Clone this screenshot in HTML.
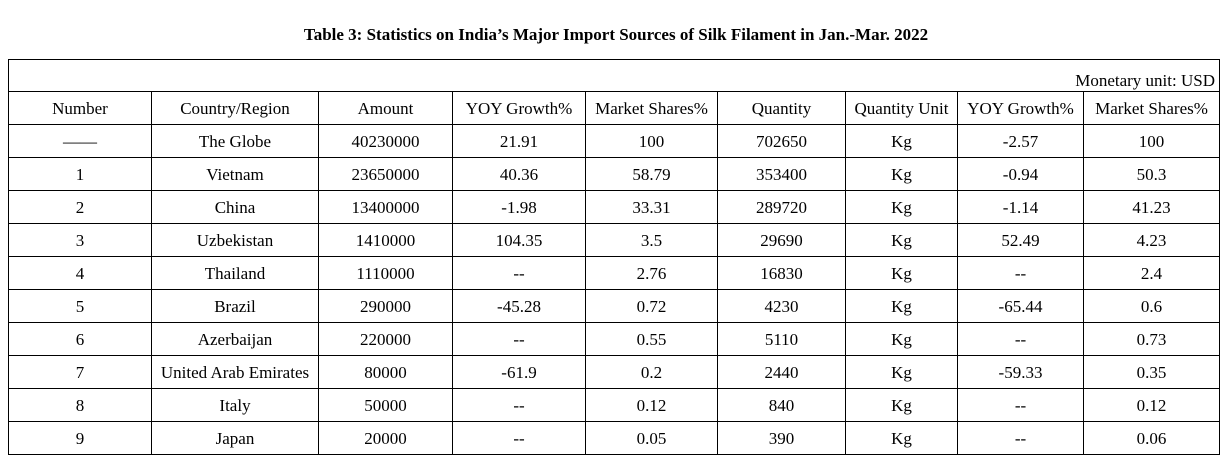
<!DOCTYPE html>
<html><head><style>
body{margin:0;width:1232px;height:471px;background:#fff;font-family:"Liberation Serif",serif;color:#000;position:relative;overflow:hidden}
.t{position:absolute;top:25px;left:0;width:1232px;text-align:center;font-weight:bold;font-size:17px}
table{position:absolute;left:8px;top:59px;border-collapse:collapse;table-layout:fixed}
td{border:1.5px solid #000;height:32px;padding:0;text-align:center;font-size:17px;line-height:19px;white-space:nowrap;overflow:hidden}
td.m{text-align:right;padding-right:4px;vertical-align:bottom;padding-bottom:2px;height:29px;line-height:17px}
</style></head><body>
<div class="t">Table 3: Statistics on India’s Major Import Sources of Silk Filament in Jan.-Mar. 2022</div>
<table>
<colgroup><col style="width:143px"><col style="width:167px"><col style="width:134px"><col style="width:133px"><col style="width:132px"><col style="width:128px"><col style="width:112px"><col style="width:126px"><col style="width:136px"></colgroup>
<tr><td colspan="9" class="m">Monetary unit: USD</td></tr>
<tr><td>Number</td><td>Country/Region</td><td>Amount</td><td>YOY Growth%</td><td>Market Shares%</td><td>Quantity</td><td>Quantity Unit</td><td>YOY Growth%</td><td>Market Shares%</td></tr>
<tr><td>——</td><td>The Globe</td><td>40230000</td><td>21.91</td><td>100</td><td>702650</td><td>Kg</td><td>-2.57</td><td>100</td></tr>
<tr><td>1</td><td>Vietnam</td><td>23650000</td><td>40.36</td><td>58.79</td><td>353400</td><td>Kg</td><td>-0.94</td><td>50.3</td></tr>
<tr><td>2</td><td>China</td><td>13400000</td><td>-1.98</td><td>33.31</td><td>289720</td><td>Kg</td><td>-1.14</td><td>41.23</td></tr>
<tr><td>3</td><td>Uzbekistan</td><td>1410000</td><td>104.35</td><td>3.5</td><td>29690</td><td>Kg</td><td>52.49</td><td>4.23</td></tr>
<tr><td>4</td><td>Thailand</td><td>1110000</td><td>--</td><td>2.76</td><td>16830</td><td>Kg</td><td>--</td><td>2.4</td></tr>
<tr><td>5</td><td>Brazil</td><td>290000</td><td>-45.28</td><td>0.72</td><td>4230</td><td>Kg</td><td>-65.44</td><td>0.6</td></tr>
<tr><td>6</td><td>Azerbaijan</td><td>220000</td><td>--</td><td>0.55</td><td>5110</td><td>Kg</td><td>--</td><td>0.73</td></tr>
<tr><td>7</td><td>United Arab Emirates</td><td>80000</td><td>-61.9</td><td>0.2</td><td>2440</td><td>Kg</td><td>-59.33</td><td>0.35</td></tr>
<tr><td>8</td><td>Italy</td><td>50000</td><td>--</td><td>0.12</td><td>840</td><td>Kg</td><td>--</td><td>0.12</td></tr>
<tr><td>9</td><td>Japan</td><td>20000</td><td>--</td><td>0.05</td><td>390</td><td>Kg</td><td>--</td><td>0.06</td></tr>
</table>
</body></html>
